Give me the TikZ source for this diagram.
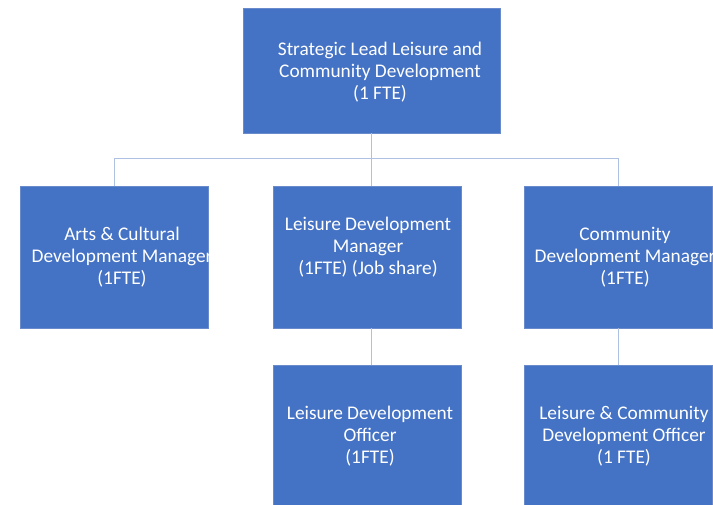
\documentclass[tikz,border=0pt]{standalone}
\usepackage{fontspec}
\setmainfont{Carlito}
\usepackage{xcolor}
\usetikzlibrary{positioning}
\definecolor{postcolor}{HTML}{4472C4}
\definecolor{edgecolor}{HTML}{6A8BCB}
\definecolor{linkcolor}{HTML}{AFC1E3}

\begin{document}
\begin{tikzpicture}[x=0.03cm, y=-0.03cm,
    post/.style={rectangle, draw=edgecolor, line width=0.4pt, fill=postcolor, anchor=north west, minimum width=5.64cm, minimum height=4.26cm},
    postlabel/.style={text=white, align=center, font=\fontsize{16.5}{19}\selectfont},
    link/.style={draw=linkcolor, line width=0.8pt}]
    \useasboundingbox (0,0) rectangle (713,504);

    % Posts
    \node[post, minimum width=7.71cm, minimum height=3.75cm] (lead) at (243,8) {};
    \node[post] (arts) at (20,186) {};
    \node[post] (leisure) at (273,186) {};
    \node[post] (community) at (524,186) {};
    \node[post] (officer) at (273,365) {};
    \node[post] (lcofficer) at (524,365) {};

    % Post titles
    \node[postlabel] (leadtext) at (380,72) {Strategic Lead Leisure and\\Community Development\\(1 FTE)};
    \node[postlabel] (artstext) at (122,257) {Arts \& Cultural\\Development Manager\\(1FTE)};
    \node[postlabel] (leisuretext) at (368,247) {Leisure Development\\Manager\\(1FTE) (Job share)};
    \node[postlabel] (communitytext) at (625,257) {Community\\Development Manager\\(1FTE)};
    \node[postlabel] (officertext) at (370,436) {Leisure Development\\Officer\\(1FTE)};
    \node[postlabel] (lcofficertext) at (624,436) {Leisure \& Community\\Development Officer\\(1 FTE)};

    % Reporting lines
    \coordinate (bus) at (371,158);
    \draw[link] (lead.south -| bus) -- (leisure.north -| bus);
    \draw[link] (bus) -| (arts.north);
    \draw[link] (bus) -| (community.north);
    \draw[link] (leisure.south -| bus) -- (officer.north -| bus);
    \draw[link] (community.south) -- (lcofficer.north);
\end{tikzpicture}
\end{document}
